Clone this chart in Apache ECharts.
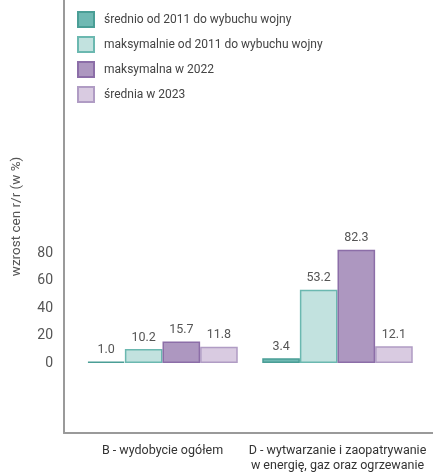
<!DOCTYPE html>
<html>
<head>
<meta charset="utf-8">
<script src="https://cdn.jsdelivr.net/npm/echarts@6/dist/echarts.min.js"></script>
<style>
html,body{margin:0;padding:0;background:#fff;}
#c{width:433px;height:474px;}
</style>
</head>
<body>
<div id="c"></div>
<script>
const categories = ['B - wydobycie ogółem', 'D - wytwarzanie i zaopatrywanie\nw energię, gaz oraz ogrzewanie'];
const seriesNames = ['średnio od 2011 do wybuchu wojny', 'maksymalnie od 2011 do wybuchu wojny', 'maksymalna w 2022', 'średnia w 2023'];
const avgPreWar = [1.0, 3.4];
const maxPreWar = [10.2, 53.2];
const max2022 = [15.7, 82.3];
const avg2023 = [11.8, 12.1];
const yTicks = [0, 20, 40, 60, 80];

const FONT = 'Roboto, "Noto Sans", sans-serif';
const fills = ['#6fb9b3', '#c2e2df', '#ad97c0', '#d9cbe1'];
const borders = ['#4a9e96', '#6bb8b0', '#8c6ea8', '#b09cc4'];
const values = [avgPreWar, maxPreWar, max2022, avg2023];

const chart = echarts.init(document.getElementById('c'), null, {renderer: 'canvas'});
chart.setOption({
  animation: false,
  textStyle: {fontFamily: FONT},
  legend: {
    orient: 'vertical', left: 77, top: 11, padding: 0,
    itemWidth: 16, itemHeight: 15, itemGap: 8,
    icon: 'rect',
    textStyle: {fontSize: 12, color: '#444', fontFamily: FONT, padding: [0, 0, 0, 5]},
    data: seriesNames
  },
  grid: [
    {left: 75, right: 8, top: 225.5, bottom: 111},
    {left: 64, right: 0, top: 0, bottom: 41}
  ],
  xAxis: [
    {type: 'category', gridIndex: 0, data: categories,
      axisLine: {show: false}, axisTick: {show: false},
      axisLabel: {margin: 80, fontSize: 12.5, lineHeight: 15, color: '#333', fontFamily: FONT, interval: 0}},
    {type: 'value', gridIndex: 1, min: 0, max: 1,
      axisLine: {show: true, onZero: false, lineStyle: {color: '#9a9a9a', width: 2}},
      axisTick: {show: false}, axisLabel: {show: false}, splitLine: {show: false}}
  ],
  yAxis: [
    {type: 'value', gridIndex: 0, min: 0, max: 100, interval: 20,
      axisLine: {show: false}, axisTick: {show: false}, splitLine: {show: false},
      axisLabel: {margin: 22, fontSize: 14, color: '#555', fontFamily: FONT,
        formatter: v => (yTicks.indexOf(v) >= 0 ? String(v) : '')}},
    {type: 'value', gridIndex: 1, min: 0, max: 1,
      name: 'wzrost cen r/r (w %)', nameLocation: 'middle', nameGap: 40, nameRotate: 90,
      nameTextStyle: {fontSize: 13.5, color: '#555', fontFamily: FONT},
      axisLine: {show: true, onZero: false, lineStyle: {color: '#9a9a9a', width: 2}},
      axisTick: {show: false}, axisLabel: {show: false}, splitLine: {show: false}}
  ],
  series: seriesNames.map((n, i) => ({
    name: n, type: 'bar', xAxisIndex: 0, yAxisIndex: 0,
    data: values[i],
    barGap: 0, barCategoryGap: '14%',
    itemStyle: {color: fills[i], borderColor: borders[i], borderWidth: 1.5},
    label: {show: true, position: 'top', distance: 5, fontSize: 12.5, color: '#555', fontFamily: FONT,
      formatter: p => p.value.toFixed(1)}
  }))
});
</script>
</body>
</html>
